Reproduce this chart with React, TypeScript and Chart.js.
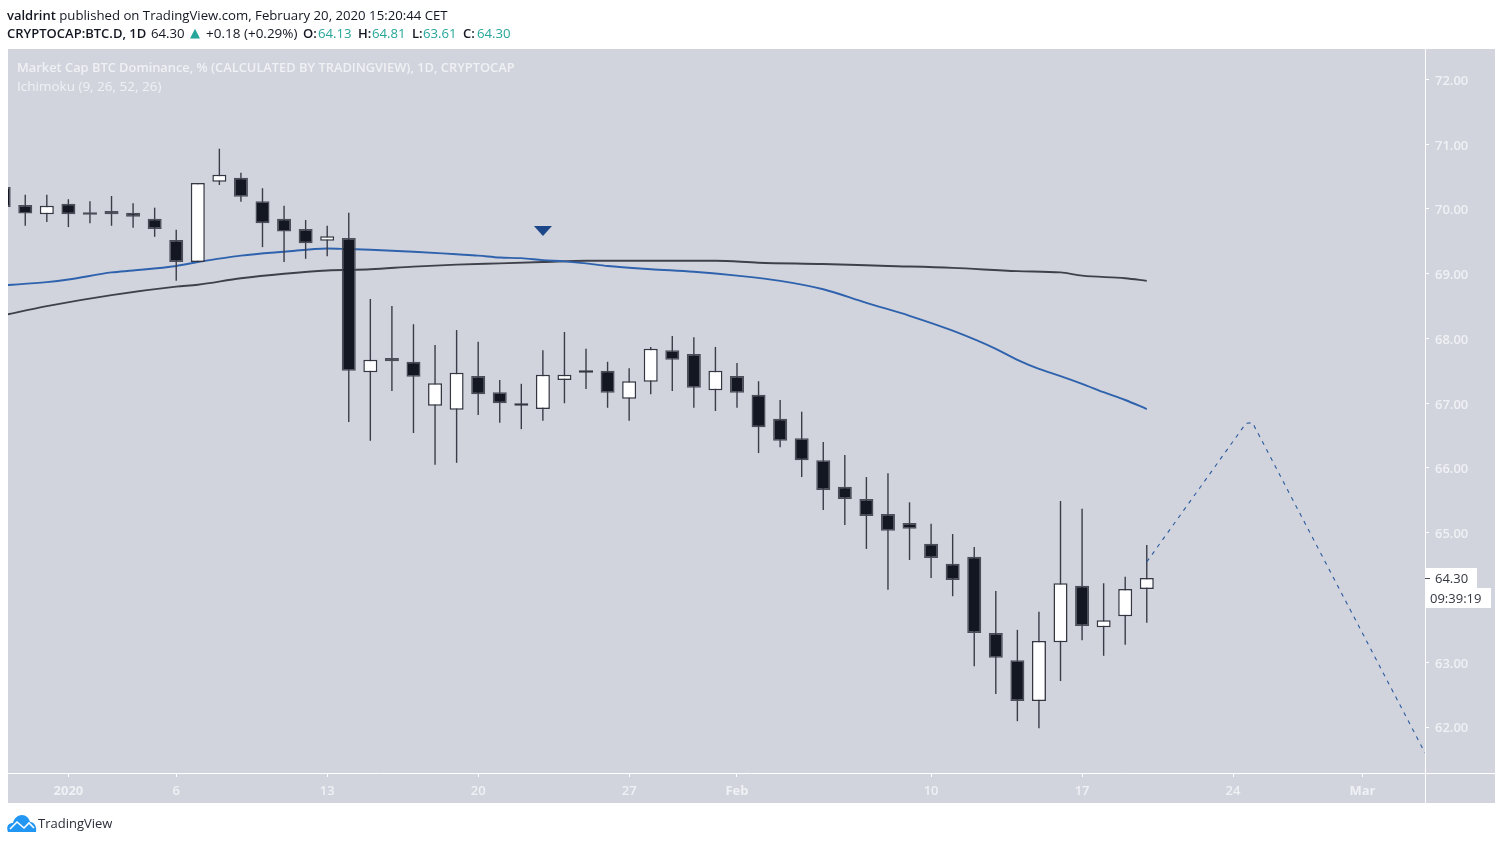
import { useEffect, useRef } from 'react'
import { Chart, registerables } from 'chart.js'

Chart.register(...registerables)

// days counted from Jan 1 2020
const candleDays = [-3, -2, -1, 0, 1, 2, 3, 4, 5, 6, 7, 8, 9, 10, 11, 12, 13, 14, 15, 16, 17, 18, 19, 20, 21, 22, 23, 24, 25, 26, 27, 28, 29, 30, 31, 32, 33, 34, 35, 36, 37, 38, 39, 40, 41, 42, 43, 44, 45, 46, 47, 48, 49, 50]
const opens = [70.34, 70.06, 69.92, 70.08, 69.95, 69.97, 69.94, 69.85, 69.52, 69.18, 70.42, 70.48, 70.12, 69.85, 69.69, 69.51, 69.55, 67.48, 67.7, 67.64, 66.96, 66.9, 67.42, 67.17, 66.96, 66.91, 67.36, 67.47, 67.5, 67.07, 67.33, 67.82, 67.76, 67.2, 67.42, 67.13, 66.76, 66.46, 66.12, 65.71, 65.52, 65.29, 65.15, 64.83, 64.52, 64.63, 63.45, 63.03, 62.4, 63.31, 64.18, 63.54, 63.71, 64.13]
const highs = [70.5, 70.22, 70.22, 70.15, 70.12, 70.2, 70.09, 70.02, 69.68, 70.4, 70.93, 70.56, 70.32, 70.05, 69.83, 69.74, 69.94, 68.61, 68.5, 68.22, 67.9, 68.13, 67.95, 67.36, 67.3, 67.82, 68.1, 67.84, 67.64, 67.54, 67.87, 68.04, 68.02, 67.87, 67.62, 67.34, 67.05, 66.87, 66.4, 66.2, 65.86, 65.92, 65.47, 65.14, 64.98, 64.78, 64.1, 63.5, 63.78, 65.49, 65.37, 64.22, 64.32, 64.81]
const lows = [69.9, 69.74, 69.8, 69.72, 69.78, 69.74, 69.71, 69.57, 68.89, 69.18, 70.37, 70.11, 69.41, 69.18, 69.23, 69.27, 66.71, 66.42, 67.19, 66.54, 66.05, 66.08, 66.82, 66.7, 66.6, 66.73, 67.0, 67.22, 66.93, 66.73, 67.14, 67.19, 66.93, 66.88, 66.93, 66.23, 66.32, 65.86, 65.35, 65.12, 64.75, 64.12, 64.58, 64.3, 64.02, 62.94, 62.51, 62.09, 61.98, 62.71, 63.34, 63.1, 63.27, 63.61]
const closes = [70.03, 69.93, 70.05, 69.92, 69.91, 69.92, 69.88, 69.69, 69.18, 70.4, 70.53, 70.19, 69.78, 69.65, 69.47, 69.58, 67.5, 67.67, 67.65, 67.41, 67.31, 67.47, 67.14, 67.0, 67.0, 67.44, 67.44, 67.51, 67.16, 67.34, 67.84, 67.67, 67.24, 67.5, 67.16, 66.63, 66.42, 66.12, 65.66, 65.52, 65.26, 65.03, 65.06, 64.61, 64.27, 63.45, 63.07, 62.4, 63.33, 64.22, 63.56, 63.65, 64.13, 64.3]

const blueDays = [-3, -1, 0, 2, 3, 5, 6, 8, 10, 12, 13, 14, 16, 18, 19, 20, 21, 22, 23, 24, 25, 27, 29, 31, 33, 35, 37, 39, 41, 43, 44, 45, 46, 47, 48, 49, 50]
const blueValues = [68.82, 68.87, 68.91, 69.02, 69.05, 69.12, 69.18, 69.28, 69.34, 69.39, 69.38, 69.37, 69.34, 69.3, 69.28, 69.25, 69.24, 69.21, 69.19, 69.16, 69.12, 69.07, 69.03, 68.97, 68.89, 68.76, 68.55, 68.35, 68.12, 67.84, 67.67, 67.53, 67.42, 67.3, 67.17, 67.05, 66.91]

const darkDays = [-3, -1, 2, 5, 6, 8, 10, 12, 14, 16, 18, 20, 22, 24, 30, 32, 35, 38, 41, 44, 46, 47, 49, 50]
const darkValues = [68.36, 68.5, 68.67, 68.8, 68.83, 68.93, 69.0, 69.05, 69.07, 69.11, 69.14, 69.16, 69.18, 69.2, 69.2, 69.17, 69.15, 69.12, 69.09, 69.04, 69.02, 68.97, 68.93, 68.89]

const forecastDays = [50, 54.6, 54.9, 62.9]
const forecastValues = [64.55, 66.69, 66.7, 61.6]

const markerDay = 22
const markerValue = 69.66

const xTickDays = [0, 5, 12, 19, 26, 31, 40, 47, 54, 60]
const xTickLabels = ['2020', '6', '13', '20', '27', 'Feb', '10', '17', '24', 'Mar']
const boldXLabels = ['2020', 'Feb', 'Mar']
const yTicks = [62, 63, 64, 65, 66, 67, 68, 69, 70, 71, 72]

const lastPrice = '64.30'
const countdown = '09:39:19'

const uiFont = '"Open Sans", "Noto Sans", sans-serif'
const panel = '#d1d4dd'
const soft = '#f0f1f4'

function markerImage() {
  const c = document.createElement('canvas')
  c.width = 18
  c.height = 10
  const g = c.getContext('2d')
  if (g) {
    g.fillStyle = '#1b4688'
    g.beginPath()
    g.moveTo(0, 0)
    g.lineTo(18, 0)
    g.lineTo(9, 10)
    g.closePath()
    g.fill()
  }
  return c
}

const framePlugin = {
  id: 'frame',
  beforeDraw(chart: any) {
    const { ctx, chartArea } = chart
    ctx.save()
    ctx.fillStyle = panel
    ctx.fillRect(8, 49, 1487, 754)
    ctx.strokeStyle = '#ffffff'
    ctx.lineWidth = 1
    ctx.beginPath()
    ctx.moveTo(chartArea.right + 0.5, 49)
    ctx.lineTo(chartArea.right + 0.5, 803)
    ctx.moveTo(8, chartArea.bottom + 0.5)
    ctx.lineTo(1495, chartArea.bottom + 0.5)
    ctx.stroke()
    ctx.restore()
  },
  afterDraw(chart: any) {
    const { ctx, chartArea, scales } = chart
    const y = Math.round(scales.y.getPixelForValue(closes[closes.length - 1]))
    const left = chartArea.right
    ctx.save()
    ctx.fillStyle = '#ffffff'
    ctx.fillRect(left, y - 10, 52, 20)
    ctx.fillRect(left + 1, y + 10, 65, 20)
    ctx.strokeStyle = '#4a4d58'
    ctx.beginPath()
    ctx.moveTo(left, y + 0.5)
    ctx.lineTo(left + 5, y + 0.5)
    ctx.stroke()
    ctx.fillStyle = '#333640'
    ctx.font = `13px ${uiFont}`
    ctx.textBaseline = 'middle'
    ctx.textAlign = 'left'
    ctx.fillText(lastPrice, left + 10, y + 1)
    ctx.fillText(countdown, left + 5, y + 21)
    ctx.restore()
  }
}

export default function App() {
  const chartRef = useRef<HTMLCanvasElement | null>(null)

  useEffect(() => {
    if (!chartRef.current) return
    const ctx = chartRef.current.getContext('2d')
    if (!ctx) return

    const isUp = closes.map((c, i) => c > opens[i])

    const chart = new Chart(ctx, {
      type: 'bar',
      plugins: [framePlugin],
      data: {
        datasets: [
          {
            type: 'line',
            order: 6,
            data: darkDays.map((d, i) => ({ x: d, y: darkValues[i] })),
            borderColor: '#3f414a',
            borderWidth: 1.9,
            pointRadius: 0,
            cubicInterpolationMode: 'monotone'
          },
          {
            type: 'line',
            order: 5,
            data: blueDays.map((d, i) => ({ x: d, y: blueValues[i] })),
            borderColor: '#2f62ad',
            borderWidth: 1.9,
            pointRadius: 0,
            cubicInterpolationMode: 'monotone'
          },
          {
            type: 'bar',
            order: 4,
            grouped: false,
            barThickness: 1.4,
            inflateAmount: 0,
            data: candleDays.map((d, i) => ({ x: d, y: [lows[i], highs[i]] })),
            backgroundColor: '#3a3d48',
            borderWidth: 0
          },
          {
            type: 'bar',
            order: 3,
            grouped: false,
            barThickness: 14,
            inflateAmount: 0,
            data: candleDays.map((d, i) => ({ x: d, y: [opens[i], closes[i]] })),
            backgroundColor: isUp.map(up => (up ? '#ffffff' : '#131722')),
            borderColor: isUp.map(up => (up ? '#343741' : '#4b4e59')),
            borderWidth: 1.5,
            borderSkipped: false
          },
          {
            type: 'line',
            order: 2,
            data: forecastDays.map((d, i) => ({ x: d, y: forecastValues[i] })),
            borderColor: '#2a5a9e',
            borderWidth: 1.1,
            borderDash: [4, 5],
            pointRadius: 0
          },
          {
            type: 'line',
            order: 1,
            data: [{ x: markerDay, y: markerValue }],
            showLine: false,
            pointStyle: markerImage(),
            pointRadius: 9
          }
        ] as any
      },
      options: {
        responsive: false,
        animation: false,
        devicePixelRatio: 1,
        layout: { autoPadding: false, padding: { left: 8, top: 49, right: 0, bottom: 0 } },
        plugins: { legend: { display: false }, tooltip: { enabled: false } },
        scales: {
          x: {
            type: 'linear',
            min: -2.8,
            max: 62.9,
            offset: false,
            afterBuildTicks: (scale: any) => {
              scale.ticks = xTickDays.map(value => ({ value }))
            },
            afterFit: (scale: any) => {
              scale.height = 71
            },
            grid: { offset: false, drawOnChartArea: false, drawTicks: true, tickLength: 4, color: '#ffffff' },
            border: { display: false },
            ticks: {
              autoSkip: false,
              maxRotation: 0,
              padding: 6,
              color: soft,
              font: (c: any) => ({
                family: uiFont,
                size: 13,
                weight: boldXLabels.includes(xTickLabels[c.index]) ? 700 : 600
              }),
              callback: (value: any) => xTickLabels[xTickDays.indexOf(Number(value))]
            }
          },
          y: {
            position: 'right',
            min: 61.29,
            max: 72.47,
            afterBuildTicks: (scale: any) => {
              scale.ticks = yTicks.map(value => ({ value }))
            },
            afterFit: (scale: any) => {
              scale.width = 78
            },
            grid: { drawOnChartArea: false, drawTicks: true, tickLength: 4, color: '#ffffff' },
            border: { display: false },
            ticks: {
              padding: 6,
              labelOffset: 1.7,
              color: soft,
              font: { family: uiFont, size: 13, weight: 600 },
              callback: (value: any) => Number(value).toFixed(2)
            }
          }
        }
      }
    })

    return () => {
      chart.destroy()
    }
  }, [])

  const teal = '#26a69a'
  const regular = 13.2
  const semi = 13
  const row2: React.CSSProperties = { position: 'absolute', top: 24, whiteSpace: 'pre', fontSize: regular, color: '#131722', lineHeight: '18px' }
  const strong: React.CSSProperties = { ...row2, fontWeight: 600, fontSize: semi }

  return (
    <div style={{ position: 'absolute', left: 0, top: 0, width: 1503, height: 844, background: '#fff', overflow: 'hidden', fontFamily: uiFont }}>
      <canvas ref={chartRef} width={1503} height={844} style={{ position: 'absolute', left: 0, top: 0, width: 1503, height: 844 }} />
      <div style={{ position: 'absolute', left: 7, top: 6, whiteSpace: 'pre', fontSize: regular, color: '#131722', lineHeight: '18px' }}>
        <b style={{ fontWeight: 600, fontSize: semi }}>valdrint</b> published on TradingView.com, February 20, 2020 15:20:44 CET
      </div>
      <div style={{ ...strong, left: 7 }}>CRYPTOCAP:BTC.D, 1D</div>
      <div style={{ ...row2, left: 151 }}>64.30</div>
      <div style={{ ...row2, left: 190, color: teal, fontSize: 13, fontFamily: 'DejaVu Sans' }}>▲</div>
      <div style={{ ...row2, left: 206, fontSize: 13.5 }}>+0.18 (+0.29%)</div>
      <div style={{ ...strong, left: 303 }}>O:</div>
      <div style={{ ...row2, left: 318, color: teal }}>64.13</div>
      <div style={{ ...strong, left: 358 }}>H:</div>
      <div style={{ ...row2, left: 372, color: teal }}>64.81</div>
      <div style={{ ...strong, left: 412 }}>L:</div>
      <div style={{ ...row2, left: 423, color: teal }}>63.61</div>
      <div style={{ ...strong, left: 463 }}>C:</div>
      <div style={{ ...row2, left: 477, color: teal }}>64.30</div>
      <div style={{ position: 'absolute', left: 17, top: 58, fontSize: 12.85, fontWeight: 600, color: soft, lineHeight: '18px', whiteSpace: 'pre' }}>
        Market Cap BTC Dominance, % (CALCULATED BY TRADINGVIEW), 1D, CRYPTOCAP
      </div>
      <div style={{ position: 'absolute', left: 17, top: 77, fontSize: 13.5, color: soft, lineHeight: '18px', whiteSpace: 'pre' }}>
        Ichimoku (9, 26, 52, 26)
      </div>
      <svg style={{ position: 'absolute', left: 7, top: 814 }} width={30} height={19} viewBox="0 0 30 19">
        <path d="M1 18 C-1 13 1 9 6 9 C7 4 11 1 15 1 C19 1 22 4 23 8 C27 8 30 12 29 18 Z" fill="#2196f3" />
        <path d="M3 15 L10 8 L17 14 L22 9 L27 14" fill="none" stroke="#fff" strokeWidth="1.6" />
      </svg>
      <div style={{ position: 'absolute', left: 38, top: 814, fontSize: 13, color: '#2a2e39', lineHeight: '18px' }}>TradingView</div>
    </div>
  )
}
